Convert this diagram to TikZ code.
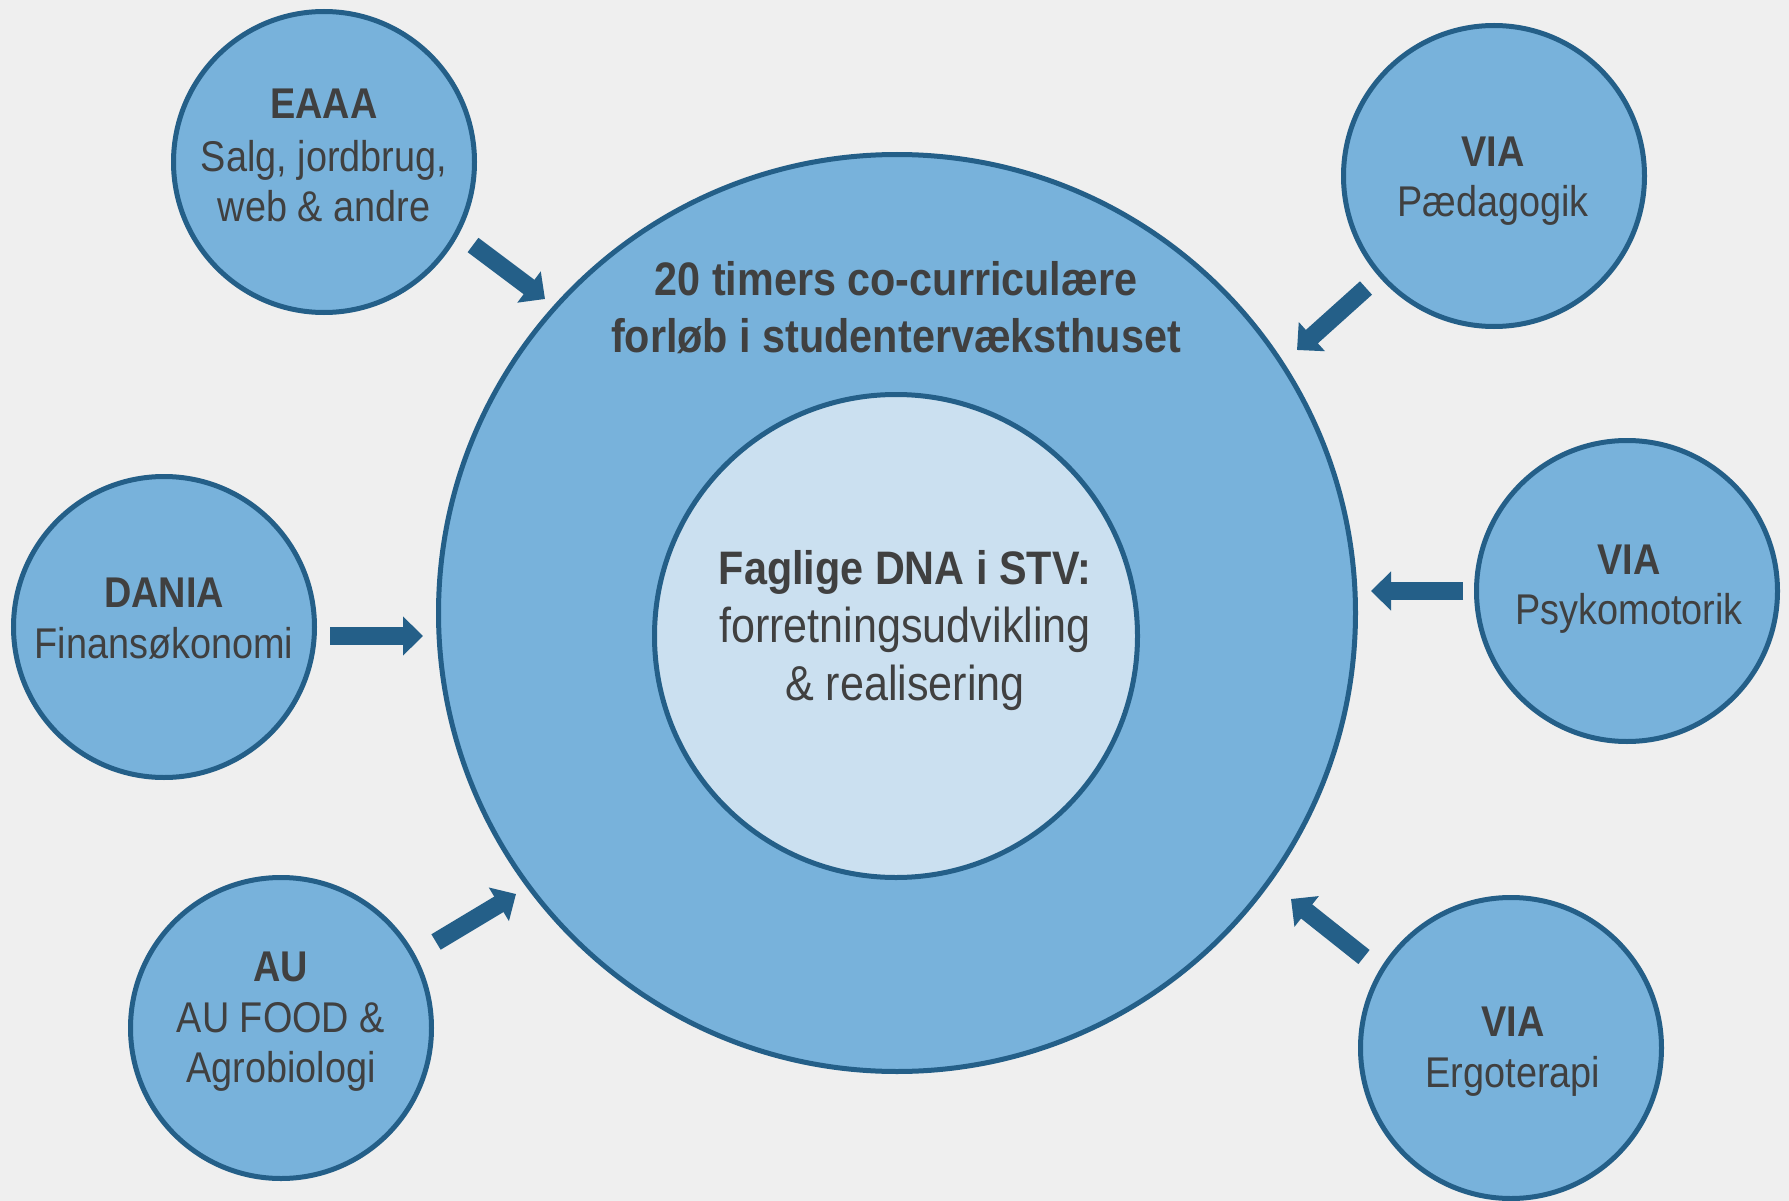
\documentclass[tikz,border=0pt]{standalone}
\usepackage{fontspec}
\setmainfont{Liberation Sans}[FakeStretch=0.88]
\usetikzlibrary{arrows.meta}
\definecolor{bg}{HTML}{EFEFEF}
\definecolor{fillblue}{HTML}{78B2DB}
\definecolor{darkblue}{HTML}{245F88}
\definecolor{innerblue}{HTML}{CBE0F0}
\definecolor{txt}{HTML}{404040}
\begin{document}
\begin{tikzpicture}[x=1pt,y=-1pt,
  bubble/.style={circle, draw=darkblue, line width=5pt, fill=fillblue, inner sep=0pt, minimum size=#1},
  hd/.style={anchor=base, text=txt, inner sep=0pt, font=\fontsize{43}{51}\selectfont\bfseries},
  sub/.style={anchor=base, text=txt, inner sep=0pt, font=\fontsize{43}{51}\selectfont},
  ttl/.style={anchor=base, text=txt, inner sep=0pt, font=\fontsize{47}{57}\selectfont\bfseries},
  inn/.style={anchor=base, text=txt, inner sep=0pt, font=\fontsize{49}{57}\selectfont},
  innb/.style={anchor=base, text=txt, inner sep=0pt, font=\fontsize{47}{57}\selectfont\bfseries},
  arr/.style={draw=darkblue, line width=18pt, -{Triangle[width=38pt,length=20pt]}}
]
\fill[bg] (0,0) rectangle (1789,1201);
\useasboundingbox (0,0) rectangle (1789,1201);

% central circles
\node[bubble=917pt] (big) at (897,613) {};
\node[bubble=483pt, fill=innerblue] (inner) at (896,636) {};

% satellites
\node[bubble=301pt] (eaaa) at (324,162) {};
\node[bubble=301pt] (paed) at (1494,176) {};
\node[bubble=301pt] (dania) at (164,627) {};
\node[bubble=301pt] (psyk) at (1627,591) {};
\node[bubble=301pt] (au) at (281,1028) {};
\node[bubble=301pt] (ergo) at (1511,1048) {};

% title
\node[ttl] (t1) at (896,295) {20 timers co-curriculære};
\node[ttl] (t2) at (896,352) {forløb i studentervæksthuset};

% inner text
\node[innb] (i1) at (905,584) {Faglige DNA i STV:};
\node[inn] (i2) at (905,642) {forretningsudvikling};
\node[inn] (i3) at (905,700) {\& realisering};

% satellite texts
\node[hd] (eaaa1) at (324,119) {EAAA};
\node[sub] (eaaa2) at (324,172) {Salg, jordbrug,};
\node[sub] (eaaa3) at (324,222) {web \& andre};

\node[hd] (paed1) at (1493,167) {VIA};
\node[sub] (paed2) at (1493,217) {Pædagogik};

\node[hd] (dania1) at (164,607) {DANIA};
\node[sub] (dania2) at (164,658) {Finansøkonomi};

\node[hd] (psyk1) at (1629,574) {VIA};
\node[sub] (psyk2) at (1629,624) {Psykomotorik};

\node[hd] (au1) at (281,981) {AU};
\node[sub] (au2) at (281,1032) {AU FOOD \&};
\node[sub] (au3) at (281,1082) {Agrobiologi};

\node[hd] (ergo1) at (1513,1036) {VIA};
\node[sub] (ergo2) at (1513,1087) {Ergoterapi};

% arrow end points
\coordinate (a1s) at (473,245); \coordinate (a1e) at (545,299);
\coordinate (a2s) at (1366,288); \coordinate (a2e) at (1297,350);
\coordinate (a3s) at (330,636); \coordinate (a3e) at (423,636);
\coordinate (a4s) at (1463,591); \coordinate (a4e) at (1371,591);
\coordinate (a5s) at (436,942); \coordinate (a5e) at (516,894);
\coordinate (a6s) at (1364,957); \coordinate (a6e) at (1291,899);

\draw[arr] (a1s) -- (a1e);
\draw[arr] (a2s) -- (a2e);
\draw[arr] (a3s) -- (a3e);
\draw[arr] (a4s) -- (a4e);
\draw[arr] (a5s) -- (a5e);
\draw[arr] (a6s) -- (a6e);
\end{tikzpicture}
\end{document}
